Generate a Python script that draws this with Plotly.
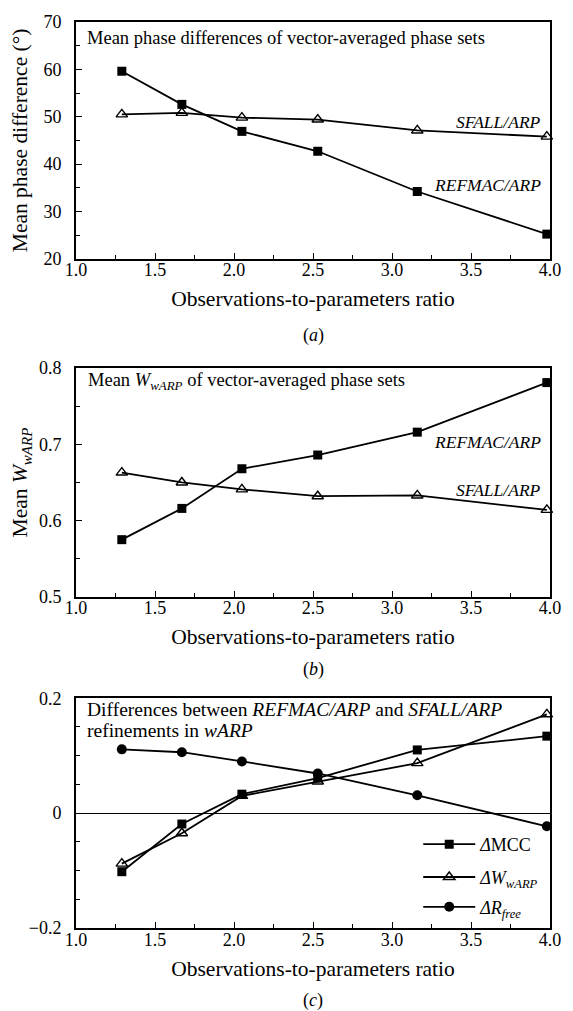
import plotly.graph_objects as go

# ---------------- data ----------------
x_ratio = [1.29, 1.67, 2.05, 2.53, 3.16, 3.98]

phase_refmac = [59.6, 52.6, 46.9, 42.7, 34.2, 25.2]
phase_sfall = [50.5, 50.8, 49.8, 49.4, 47.1, 45.8]

w_refmac = [0.575, 0.616, 0.668, 0.686, 0.716, 0.781]
w_sfall = [0.663, 0.650, 0.641, 0.632, 0.633, 0.614]

d_mcc = [-0.102, -0.019, 0.033, 0.061, 0.110, 0.134]
d_warp = [-0.088, -0.035, 0.030, 0.055, 0.087, 0.172]
d_rfree = [0.111, 0.106, 0.090, 0.069, 0.031, -0.023]

x_ticks = [1.0, 1.5, 2.0, 2.5, 3.0, 3.5, 4.0]
x_ticktext = ["1.0", "1.5", "2.0", "2.5", "3.0", "3.5", "4.0"]
ya_ticks = [20, 30, 40, 50, 60, 70]
yb_ticks = [0.5, 0.6, 0.7, 0.8]
yb_ticktext = ["0.5", "0.6", "0.7", "0.8"]
yc_ticks = [-0.2, 0.0, 0.2]
yc_ticktext = ["\u22120.2", "0", "0.2"]

SERIF = "Liberation Serif"
BLACK = "black"

fig = go.Figure()

line_style = dict(color=BLACK, width=1.8)
sq = dict(symbol="square", size=9, color=BLACK)
tri = dict(symbol="triangle-up-open", size=10, color=BLACK, line=dict(color=BLACK, width=1.4))
circ = dict(symbol="circle", size=10, color=BLACK)

# panel (a) -> xaxis3 / yaxis3
fig.add_trace(go.Scatter(x=x_ratio, y=phase_sfall, mode="lines+markers", line=line_style,
                         marker=tri, xaxis="x3", yaxis="y3", showlegend=False, cliponaxis=False))
fig.add_trace(go.Scatter(x=x_ratio, y=phase_refmac, mode="lines+markers", line=line_style,
                         marker=sq, xaxis="x3", yaxis="y3", showlegend=False, cliponaxis=False))
# panel (b) -> xaxis2 / yaxis2
fig.add_trace(go.Scatter(x=x_ratio, y=w_sfall, mode="lines+markers", line=line_style,
                         marker=tri, xaxis="x2", yaxis="y2", showlegend=False, cliponaxis=False))
fig.add_trace(go.Scatter(x=x_ratio, y=w_refmac, mode="lines+markers", line=line_style,
                         marker=sq, xaxis="x2", yaxis="y2", showlegend=False, cliponaxis=False))
# panel (c) -> xaxis / yaxis
fig.add_trace(go.Scatter(x=x_ratio, y=d_mcc, mode="lines+markers", line=line_style,
                         marker=sq, xaxis="x", yaxis="y", cliponaxis=False,
                         name="<i>\u0394</i>MCC", legend="legend"))
fig.add_trace(go.Scatter(x=x_ratio, y=d_warp, mode="lines+markers", line=line_style,
                         marker=tri, xaxis="x", yaxis="y", cliponaxis=False,
                         name="<i>\u0394W</i><sub><i>wARP</i></sub>", legend="legend2"))
fig.add_trace(go.Scatter(x=x_ratio, y=d_rfree, mode="lines+markers", line=line_style,
                         marker=circ, xaxis="x", yaxis="y", cliponaxis=False,
                         name="<i>\u0394R</i><sub><i>free</i></sub>", legend="legend3"))

tickfont = dict(family=SERIF, size=18, color=BLACK)
titlefont = dict(family=SERIF, size=21.5, color=BLACK)


def xax(anchor):
    return dict(range=[1.0, 4.0], tickvals=x_ticks, ticktext=x_ticktext, anchor=anchor,
                showline=True, linecolor=BLACK, linewidth=1.8, mirror=True,
                ticks="inside", ticklen=6, tickwidth=1.3, tickcolor=BLACK,
                ticklabelstandoff=-6,
                showgrid=False, zeroline=False, tickfont=tickfont,
                minor=dict(ticks="inside", ticklen=4, tickwidth=1.1, tickcolor=BLACK,
                           dtick=0.25, showgrid=False),
                title=dict(text="Observations-to-parameters ratio", font=titlefont, standoff=12))


def yax(anchor, rng, tv, tt, mdt, domain, title=None, standoff=6):
    d = dict(range=rng, tickvals=tv, ticktext=tt, anchor=anchor, domain=domain,
             showline=True, linecolor=BLACK, linewidth=1.8, mirror=True,
             ticks="inside", ticklen=6, tickwidth=1.3, tickcolor=BLACK,
             ticklabelstandoff=9,
             showgrid=False, zeroline=False, tickfont=tickfont,
             minor=dict(ticks="inside", ticklen=4, tickwidth=1.1, tickcolor=BLACK,
                        dtick=mdt, tick0=rng[0], showgrid=False))
    if title:
        d["title"] = dict(text=title, font=titlefont, standoff=standoff)
    return d


fig.update_layout(
    width=573, height=1011,
    margin=dict(l=76, r=15, t=17, b=83),
    paper_bgcolor="white", plot_bgcolor="white",
    font=dict(family=SERIF, color=BLACK),
    hovermode=False,
    xaxis=xax("y"),
    yaxis=yax("x", [-0.2, 0.2], yc_ticks, yc_ticktext, 0.05, [0.0, 0.2536]),
    xaxis2=xax("y2"),
    yaxis2=yax("x2", [0.5, 0.8], yb_ticks, yb_ticktext, 0.05, [0.3655, 0.6180],
               "Mean <i>W</i><sub><i>wARP</i></sub>", standoff=5),
    xaxis3=xax("y3"),
    yaxis3=yax("x3", [20, 70], ya_ticks, [str(v) for v in ya_ticks], 5, [0.7387, 1.0],
               "Mean phase difference (\u00b0)", standoff=10),
)

fig.layout.yaxis.zeroline = True
fig.layout.yaxis.zerolinecolor = BLACK
fig.layout.yaxis.zerolinewidth = 1.2

legend_common = dict(font=dict(family=SERIF, size=18, color=BLACK), bgcolor="rgba(0,0,0,0)",
                     x=0.722, xanchor="left", yanchor="middle", itemwidth=52,
                     borderwidth=0)
fig.update_layout(
    legend=dict(y=(928 - 844) / 911, **legend_common),
    legend2=dict(y=(928 - 877) / 911, **legend_common),
    legend3=dict(y=(928 - 907) / 911, **legend_common),
)

ann_font = dict(family=SERIF, size=18.5, color=BLACK)
annc_font = dict(family=SERIF, size=19.5, color=BLACK)
lab_font = dict(family=SERIF, size=17.5, color=BLACK)
annotations = [
    dict(text="Mean phase differences of vector-averaged phase sets", xref="x3 domain", yref="y3 domain",
         x=0.019, y=0.933, xanchor="left", yanchor="middle", showarrow=False, font=ann_font),
    dict(text="Mean <i>W</i><sub><i>wARP</i></sub> of vector-averaged phase sets", xref="x2 domain",
         yref="y2 domain", x=0.022, y=0.943, xanchor="left", yanchor="middle", showarrow=False, font=ann_font),
    dict(text="Differences between <i>REFMAC/ARP</i> and <i>SFALL/ARP</i>",
         xref="x domain", yref="y domain", x=0.02, y=1 - 11 / 231, xanchor="left", yanchor="middle",
         showarrow=False, font=annc_font),
    dict(text="refinements in <i>wARP</i>",
         xref="x domain", yref="y domain", x=0.02, y=1 - 32 / 231, xanchor="left", yanchor="middle",
         showarrow=False, font=annc_font),
    dict(text="<i>SFALL/ARP</i>", xref="x3", yref="y3", x=3.956, y=48.9, xanchor="right", yanchor="middle",
         showarrow=False, font=lab_font),
    dict(text="<i>REFMAC/ARP</i>", xref="x3", yref="y3", x=3.956, y=35.6, xanchor="right", yanchor="middle",
         showarrow=False, font=lab_font),
    dict(text="<i>REFMAC/ARP</i>", xref="x2", yref="y2", x=3.956, y=0.703, xanchor="right", yanchor="middle",
         showarrow=False, font=lab_font),
    dict(text="<i>SFALL/ARP</i>", xref="x2", yref="y2", x=3.956, y=0.640, xanchor="right", yanchor="middle",
         showarrow=False, font=lab_font),
    dict(text="(<i>a</i>)", xref="paper", yref="paper", x=0.5, y=(928 - 332) / 911, xanchor="center",
         yanchor="middle", showarrow=False, font=dict(family=SERIF, size=18, color=BLACK)),
    dict(text="(<i>b</i>)", xref="paper", yref="paper", x=0.5, y=(928 - 668) / 911, xanchor="center",
         yanchor="middle", showarrow=False, font=dict(family=SERIF, size=18, color=BLACK)),
    dict(text="(<i>c</i>)", xref="paper", yref="paper", x=0.5, y=(928 - 1001) / 911, xanchor="center",
         yanchor="middle", showarrow=False, font=dict(family=SERIF, size=18, color=BLACK)),
]
fig.update_layout(annotations=annotations)

fig.write_html("out.html", config={"displayModeBar": False},
               post_script="document.body.style.margin='0';document.body.style.overflow='hidden';")
